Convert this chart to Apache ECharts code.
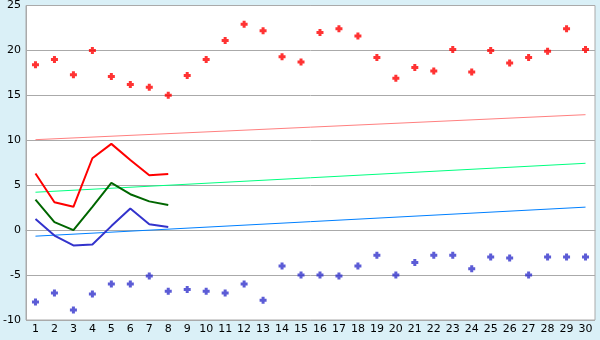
<!DOCTYPE html>
<html>
<head>
<meta charset="utf-8">
<script src="https://cdn.jsdelivr.net/npm/echarts@6/dist/echarts.min.js"></script>
<style>
html, body { margin: 0; padding: 0; background: #daf0f7; }
#chart { width: 600px; height: 340px; }
</style>
</head>
<body>
<div id="chart"></div>
<script>
var myChart = echarts.init(document.getElementById('chart'));

// x categories 1..30
var days = ['1','2','3','4','5','6','7','8','9','10','11','12','13','14','15',
            '16','17','18','19','20','21','22','23','24','25','26','27','28','29','30'];

// scatter points
var highPts = [18.4, 19.0, 17.3, 20.0, 17.1, 16.2, 15.9, 15.0, 17.2, 19.0,
               21.1, 22.9, 22.2, 19.3, 18.7, 22.0, 22.4, 21.6, 19.2, 16.9,
               18.1, 17.7, 20.1, 17.6, 20.0, 18.6, 19.2, 19.9, 22.4, 20.1];
var lowPts = [-8.0, -7.0, -8.9, -7.1, -6.0, -6.0, -5.1, -6.8, -6.6, -6.8,
              -7.0, -6.0, -7.8, -4.0, -5.0, -5.0, -5.1, -4.0, -2.8, -5.0,
              -3.6, -2.8, -2.8, -4.3, -3.0, -3.1, -5.0, -3.0, -3.0, -3.0];

// lines for the first 8 days
var redLine = [6.3, 3.1, 2.6, 8.0, 9.6, 7.8, 6.1, 6.25];
var greenLine = [3.4, 0.9, 0.0, 2.6, 5.25, 4.0, 3.2, 2.8];
var blueLine = [1.25, -0.6, -1.7, -1.6, 0.45, 2.4, 0.65, 0.35];

// trend lines: value at day 1 and day 30
var redTrend = [10.07, 12.85];
var greenTrend = [4.22, 7.44];
var blueTrend = [-0.67, 2.56];

function trend(v) {
    return [[days[0], v[0]], [days[days.length - 1], v[1]]];
}

var plus = 'path://M2,0H5V2H7V5H5V7H2V5H0V2H2Z';

option = {
    backgroundColor: '#daf0f7',
    animation: false,
    textStyle: { fontFamily: 'DejaVu Sans' },
    grid: {
        left: 26, right: 5, top: 5, bottom: 20,
        show: true,
        backgroundColor: '#ffffff',
        borderColor: '#aaaaaa',
        borderWidth: 1
    },
    xAxis: {
        type: 'category',
        data: days,
        boundaryGap: true,
        axisLine: { lineStyle: { color: '#aaaaaa' } },
        axisTick: { alignWithLabel: true, length: 5, lineStyle: { color: '#333' } },
        axisLabel: { color: '#000', fontSize: 11, margin: 4 },
        splitLine: { show: false }
    },
    yAxis: {
        type: 'value',
        min: -10,
        max: 25,
        interval: 5,
        axisLine: { show: true, lineStyle: { color: '#aaaaaa' } },
        axisTick: { show: false },
        axisLabel: { color: '#000', fontSize: 11, margin: 5 },
        splitLine: { lineStyle: { color: '#aaaaaa' } }
    },
    series: [{
        type: 'line', data: trend(redTrend), symbol: 'none',
        lineStyle: { color: '#ff8080', width: 1 }
    }, {
        type: 'line', data: trend(greenTrend), symbol: 'none',
        lineStyle: { color: '#00ff80', width: 1 }
    }, {
        type: 'line', data: trend(blueTrend), symbol: 'none',
        lineStyle: { color: '#0080ff', width: 1 }
    }, {
        type: 'line', data: redLine, symbol: 'none',
        lineStyle: { color: '#ff0000', width: 2 }
    }, {
        type: 'line', data: greenLine, symbol: 'none',
        lineStyle: { color: '#006600', width: 2 }
    }, {
        type: 'line', data: blueLine, symbol: 'none',
        lineStyle: { color: '#3333cc', width: 2 }
    }, {
        type: 'scatter', data: highPts, symbol: plus, symbolSize: 7,
        itemStyle: { color: '#ff0000' }
    }, {
        type: 'scatter', data: lowPts, symbol: plus, symbolSize: 7,
        itemStyle: { color: '#3333cc' }
    }]
};

if (option && typeof option === "object") {
    myChart.setOption(option, true);
}
</script>
</body>
</html>
